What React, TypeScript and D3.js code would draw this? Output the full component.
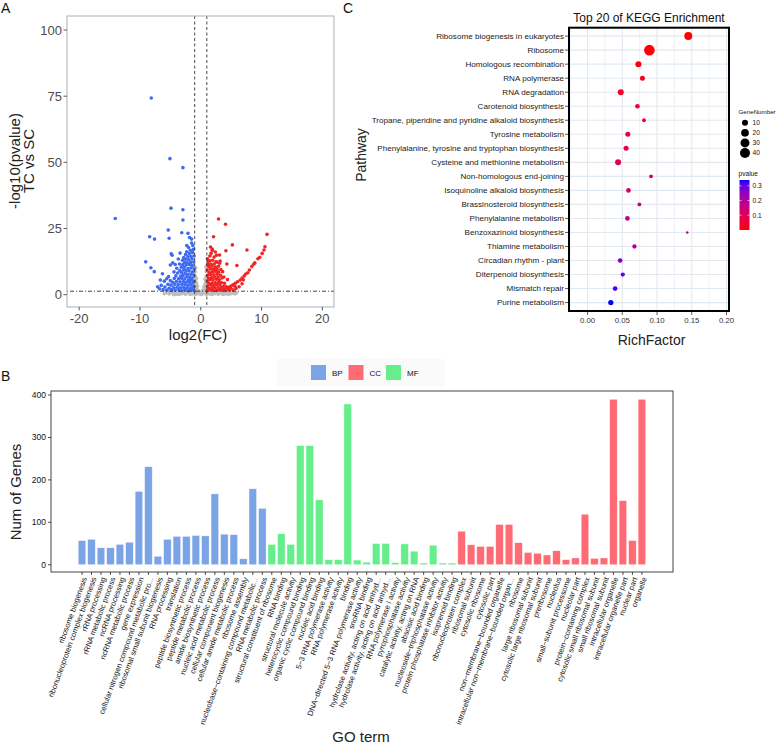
import React from 'react';
import * as d3 from 'd3';

const FONT = "'Liberation Sans', Arial, Helvetica, sans-serif";

// ---------------- Panel A: volcano ----------------
const volcanoXTicks = [-20, -10, 0, 10, 20];
const volcanoYTicks = [0, 25, 50, 75, 100];
const fcCutoffs = [-1, 1];
const pCutoff = 1.3;

const greyPoints: [number, number][] = [
  [-6.0, 0.4], [-5.6, 0.8], [-5.2, 0.3], [-4.9, 1.0], [-4.6, 0.5], [-4.3, 0.9], [-4.0, 0.2], [-3.7, 0.7], [-3.4, 1.1], [-3.1, 0.4],
  [-2.8, 0.8], [-2.5, 0.2], [-2.2, 1.0], [-1.9, 0.5], [-1.6, 0.9], [-1.3, 0.3], [-1.0, 0.7], [-0.7, 1.1], [-0.4, 0.4], [-0.1, 0.8],
  [0.2, 0.2], [0.5, 1.0], [0.8, 0.5], [1.1, 0.9], [1.4, 0.3], [1.7, 0.7], [2.0, 1.1], [2.3, 0.4], [2.6, 0.8], [2.9, 0.2],
  [3.2, 1.0], [3.5, 0.5], [3.8, 0.9], [4.1, 0.3], [4.4, 0.7], [4.7, 1.1], [5.0, 0.4], [5.3, 0.8], [5.6, 0.3], [5.9, 0.7],
  [-5.4, 1.2], [-4.45, 0.05], [-3.55, 0.1], [-2.65, 1.2], [-1.75, 0.1], [-0.85, 0.2], [0.05, 0.1], [0.95, 0.15], [1.85, 0.1],
  [2.75, 1.2], [3.65, 0.1], [4.55, 0.15], [5.45, 1.2],
  [-0.95, 2.0], [-0.9, 3.5], [-0.92, 5.0], [-0.88, 6.8], [-0.93, 8.6], [-0.85, 10.2], [-0.75, 2.8], [-0.7, 4.4], [-0.72, 6.0],
  [-0.6, 2.0], [-0.55, 3.3], [-0.45, 1.6], [-0.3, 1.4], [0.3, 1.5], [0.45, 1.8], [0.55, 3.0], [0.62, 2.2], [0.72, 4.2], [0.7, 5.8],
  [0.78, 2.9], [0.9, 3.6], [0.88, 5.2], [0.92, 7.0], [0.95, 8.8], [0.86, 10.5], [0.94, 2.2],
];

const bluePoints: [number, number][] = [
  [-8.14, 74.3], [-5.07, 51.4], [-2.93, 48.0], [-4.9, 32.7], [-2.93, 32.1], [-2.93, 28.2], [-14.06, 28.8], [-5.35, 24.4],
  [-3.12, 23.4], [-2.1, 23.2], [-8.4, 21.9], [-7.6, 21.0], [-5.2, 21.3], [-1.84, 21.6], [-9.05, 12.4], [-8.2, 10.2],
  [-7.65, 8.7], [-6.3, 7.9], [-4.85, 15.4], [-4.7, 14.9], [-5.0, 11.2], [-6.65, 5.5], [-5.3, 6.8],
  [-1.05, 1.6], [-1.1, 3.2], [-1.08, 5.1], [-1.12, 7.4], [-1.06, 9.8], [-1.15, 12.3], [-1.1, 14.6], [-1.2, 17.1], [-1.3, 18.6],
  [-1.35, 2.4], [-1.3, 4.4], [-1.4, 6.3], [-1.33, 8.6], [-1.38, 11.0], [-1.42, 13.5], [-1.36, 15.9], [-1.5, 19.5], [-1.55, 1.7],
  [-1.6, 3.6], [-1.52, 5.5], [-1.62, 7.7], [-1.58, 10.1], [-1.65, 12.2], [-1.6, 14.4], [-1.7, 16.8],
  [-1.8, 2.3], [-1.85, 4.6], [-1.78, 6.6], [-1.9, 8.9], [-1.82, 11.3], [-1.95, 13.2], [-1.88, 15.5], [-2.0, 17.8], [-2.05, 1.5],
  [-2.1, 3.5], [-2.02, 5.6], [-2.15, 7.6], [-2.08, 9.9], [-2.2, 12.0], [-2.12, 14.3], [-2.3, 16.2], [-2.3, 2.6], [-2.35, 4.8],
  [-2.28, 6.9], [-2.4, 9.0], [-2.38, 11.2], [-2.45, 13.4], [-2.5, 15.2],
  [-2.55, 1.8], [-2.6, 3.9], [-2.62, 6.0], [-2.58, 8.1], [-2.7, 10.3], [-2.65, 12.2], [-2.8, 14.0], [-2.8, 2.7], [-2.85, 5.0],
  [-2.9, 7.2], [-2.82, 9.3], [-2.95, 11.4], [-3.0, 13.0], [-3.05, 1.6], [-3.1, 3.8], [-3.12, 6.1], [-3.15, 8.4], [-3.2, 10.4],
  [-3.35, 2.6], [-3.4, 4.9], [-3.3, 7.0], [-3.45, 9.1], [-3.5, 11.6],
  [-3.6, 1.9], [-3.7, 3.8], [-3.65, 6.0], [-3.8, 8.2], [-3.9, 2.8], [-4.0, 5.0], [-4.1, 7.1], [-3.95, 10.0], [-4.2, 1.7],
  [-4.3, 3.9], [-4.35, 6.1], [-4.5, 2.6], [-4.6, 4.7], [-4.4, 8.6], [-4.8, 1.8], [-4.9, 3.6], [-5.0, 5.3], [-5.2, 2.4],
  [-5.4, 3.9], [-5.6, 1.7], [-5.9, 2.9], [-6.2, 1.9], [-6.5, 3.5], [-6.8, 2.2], [-7.1, 3.0], [-5.6, 6.0], [-6.0, 5.1],
  [-4.6, 12.0], [-3.7, 13.5], [-2.3, 18.6], [-1.5, 21.0], [-3.4, 15.7], [-4.2, 11.4],
];

const redPoints: [number, number][] = [
  [2.93, 28.6], [4.08, 26.6], [10.9, 22.8], [2.1, 21.9], [5.2, 18.8], [7.6, 16.9], [4.14, 16.6], [10.56, 18.1], [10.4, 16.9],
  [10.1, 15.6], [9.7, 14.1], [9.4, 13.6], [8.7, 11.5], [8.4, 10.6], [8.0, 9.3], [7.75, 8.3], [7.4, 7.8], [7.15, 7.1],
  [5.95, 11.0], [4.3, 11.6], [3.1, 15.0], [3.2, 12.7], [6.5, 5.5], [6.05, 4.9], [5.67, 4.3], [5.3, 3.7], [4.96, 3.3],
  [4.57, 2.8], [4.2, 2.4], [1.9, 17.2], [2.4, 16.1], [1.6, 18.0], [8.9, 12.0], [6.8, 6.3],
  [1.05, 1.6], [1.1, 3.3], [1.08, 5.2], [1.12, 7.3], [1.06, 9.4], [1.15, 11.5], [1.1, 13.6], [1.2, 12.4], [1.3, 2.4], [1.35, 4.3],
  [1.32, 6.2], [1.4, 8.4], [1.36, 10.6], [1.45, 12.8], [1.5, 14.6], [1.55, 1.8], [1.6, 3.7], [1.52, 5.7], [1.62, 7.6], [1.58, 9.7],
  [1.66, 11.6], [1.8, 2.5], [1.85, 4.4], [1.78, 6.5], [1.9, 8.6], [1.86, 10.8], [1.95, 13.0], [2.05, 1.6], [2.1, 3.5], [2.0, 5.6],
  [2.15, 7.5], [2.1, 9.6], [2.2, 11.6], [2.3, 2.6], [2.35, 4.6], [2.28, 6.7], [2.42, 8.8], [2.4, 10.4], [2.5, 12.4],
  [2.6, 1.7], [2.62, 3.7], [2.58, 5.8], [2.7, 7.7], [2.68, 9.5], [2.85, 2.6], [2.9, 4.6], [2.82, 6.6], [2.95, 8.5], [3.1, 1.8],
  [3.15, 3.7], [3.05, 5.6], [3.25, 7.3], [3.35, 2.6], [3.4, 4.6], [3.5, 6.3], [3.6, 1.7], [3.7, 3.2], [3.85, 2.1], [3.9, 4.3],
  [4.1, 1.8], [4.15, 3.1], [4.4, 2.2], [4.7, 1.7], [4.9, 2.6], [2.9, 10.7], [3.3, 9.5], [3.8, 6.7], [4.4, 5.7], [2.2, 14.2],
  [1.7, 15.6], [2.7, 12.3], [3.1, 11.9], [1.9, 16.7], [2.6, 14.9], [3.6, 8.7], [5.3, 1.8], [5.8, 2.3], [6.3, 3.0], [6.8, 4.1],
  [7.0, 5.6], [5.6, 3.2],
];

// ---------------- Panel B: GO bars ----------------
const bpTerms = [
  'ribosome biogenesis', 'ribonucleoprotein complex biogenesis', 'rRNA processing', 'rRNA metabolic process',
  'ncRNA processing', 'ncRNA metabolic process', 'gene expression', 'cellular nitrogen compound metabolic pro...',
  'ribosomal small subunit biogenesis', 'RNA processing', 'translation', 'peptide biosynthetic process',
  'peptide metabolic process', 'amide biosynthetic process', 'nucleic acid metabolic process',
  'cellular component biogenesis', 'cellular amide metabolic process', 'ribosome assembly',
  'nucleobase\u2212containing compound metabolic...', 'RNA metabolic process',
];
const bpCounts = [57, 60, 40, 40, 48, 53, 173, 231, 20, 60, 67, 67, 69, 68, 167, 72, 71, 14, 179, 133];

const mfTerms = [
  'structural constituent of ribosome', 'RNA binding', 'structural molecule activity', 'heterocyclic compound binding',
  'organic cyclic compound binding', 'nucleic acid binding', '5\u22123 RNA polymerase activity', 'RNA polymerase activity',
  'binding', 'DNA\u2212directed 5\u22123 RNA polymerase activity', 'snoRNA binding',
  'hydrolase activity, acting on acid anhyd...', 'hydrolase activity, acting on acid anhyd...',
  'RNA polymerase I activity', 'pyrophosphatase activity', 'catalytic activity, acting on RNA', 'abscisic acid binding',
  'nucleoside\u2212triphosphatase activity', 'protein phosphatase inhibitor activity', 'isoprenoid binding',
];
const mfCounts = [48, 73, 48, 281, 281, 153, 12, 12, 379, 11, 6, 50, 50, 5, 49, 32, 4, 46, 4, 4];

const ccTerms = [
  'ribonucleoprotein complex', 'ribosomal subunit', 'cytosolic ribosome', 'cytosolic part',
  'non\u2212membrane\u2212bounded organelle', 'intracellular non\u2212membrane\u2212bounded organ...', 'ribosome',
  'large ribosomal subunit', 'cytosolic large ribosomal subunit', 'preribosome', 'nucleolus',
  'small\u2212subunit processome', 'nucleolar part', 'protein\u2212containing complex',
  'cytosolic small ribosomal subunit', 'small ribosomal subunit', 'intracellular organelle',
  'intracellular organelle part', 'nuclear part', 'organelle',
];
const ccCounts = [79, 47, 43, 43, 95, 95, 52, 29, 27, 23, 33, 12, 16, 119, 15, 16, 390, 151, 57, 390];

const goClasses = ['BP', 'CC', 'MF'];
const goColors: Record<string, string> = { BP: '#7BA4E6', CC: '#FF6B74', MF: '#66EE8C' };
const goYTicks = [0, 100, 200, 300, 400];

// ---------------- Panel C: KEGG dots ----------------
const pathways = [
  'Ribosome biogenesis in eukaryotes', 'Ribosome', 'Homologous recombination', 'RNA polymerase', 'RNA degradation',
  'Carotenoid biosynthesis', 'Tropane, piperidine and pyridine alkaloid biosynthesis', 'Tyrosine metabolism',
  'Phenylalanine, tyrosine and tryptophan biosynthesis', 'Cysteine and methionine metabolism',
  'Non-homologous end-joining', 'Isoquinoline alkaloid biosynthesis', 'Brassinosteroid biosynthesis',
  'Phenylalanine metabolism', 'Benzoxazinoid biosynthesis', 'Thiamine metabolism', 'Circadian rhythm - plant',
  'Diterpenoid biosynthesis', 'Mismatch repair', 'Purine metabolism',
];
const richFactors = [0.145, 0.089, 0.0732, 0.079, 0.0478, 0.0718, 0.0813, 0.058, 0.0555, 0.044, 0.0914, 0.0589, 0.0746,
  0.0574, 0.1435, 0.0675, 0.0469, 0.0507, 0.0397, 0.0335];
const geneNumbers = [22, 46, 10, 6, 10, 5, 3, 6, 6, 10, 3, 5, 3, 5, 2, 4, 5, 4, 5, 7];
const pValues = [0.001, 0.003, 0.01, 0.02, 0.035, 0.045, 0.055, 0.065, 0.075, 0.085, 0.12, 0.13, 0.15, 0.16, 0.18, 0.2,
  0.27, 0.3, 0.32, 0.34];
const richTicks = [0, 0.05, 0.1, 0.15, 0.2];
const richMinor = [-0.025, 0.025, 0.075, 0.125, 0.175];
const sizeLegend = [10, 20, 30, 40];
const pLegendTicks = [0.1, 0.2, 0.3];

export default function App() {
  // Panel A scales
  const xA = d3.scaleLinear().domain([-22, 22]).range([67, 334.5]);
  const yA = d3.scaleLinear().domain([-5, 105]).range([307.9, 16.8]);
  const boxA = { x0: 67, x1: 334, y0: 16, y1: 307 };

  // Panel B
  const goTerms = [...bpTerms, ...mfTerms, ...ccTerms];
  const goCounts = [...bpCounts, ...mfCounts, ...ccCounts];
  const goClass = [...bpTerms.map(() => 'BP'), ...mfTerms.map(() => 'MF'), ...ccTerms.map(() => 'CC')];
  const idx = d3.range(goTerms.length);
  const xB = d3.scaleBand<number>().domain(idx).range([77.25, 646.65]).paddingInner(0.2).paddingOuter(0.1);
  const yB = d3.scaleLinear().domain([-19.5, 409.5]).range([573, 391]);
  const boxB = { x0: 51, x1: 673, y0: 391, y1: 572 };

  // Panel C
  const xC = d3.scaleLinear().domain([-0.0267, 0.2036]).range([569, 729]);
  const yC = d3.scalePoint<string>().domain(pathways).range([27.7, 311]).padding(0.6);
  const minG = d3.min(geneNumbers) as number;
  const maxG = d3.max(geneNumbers) as number;
  const rArea = d3.scaleSqrt().domain([0, maxG - minG]).range([0, 4]);
  const rC = (n: number) => 1.3 + rArea(Math.max(0, n - minG));
  const colC = d3.scaleLinear<string>().domain([0, 0.34]).range(['#FF0000', '#0000FF']).interpolate(d3.interpolateLab);
  const pBar = d3.scaleLinear().domain([0, 0.339]).range([230, 180]);
  const boxC = { x0: 569, x1: 729, y0: 27.7, y1: 311 };

  const gradStops = d3.range(0, 1.0001, 0.1);

  return (
    <svg width={778} height={751} style={{ position: 'absolute', left: 0, top: 0, background: '#fff' }} fontFamily={FONT}>
      <defs>
        <linearGradient id="pgrad" x1="0" y1="1" x2="0" y2="0">
          {gradStops.map((t) => (
            <stop key={t} offset={t} stopColor={colC(t * 0.339)} />
          ))}
        </linearGradient>
        <clipPath id="clipA">
          <rect x={boxA.x0} y={boxA.y0} width={boxA.x1 - boxA.x0} height={boxA.y1 - boxA.y0} />
        </clipPath>
      </defs>
      <rect x={0} y={0} width={778} height={751} fill="#fff" />

      {/* ================= Panel A ================= */}
      <text x={1} y={13} fontSize={14} fill="#111">A</text>
      <g clipPath="url(#clipA)">
        {greyPoints.map((d, i) => (
          <circle key={'g' + i} cx={xA(d[0])} cy={yA(d[1])} r={1.9} fill="#BDBDBD" />
        ))}
        {bluePoints.map((d, i) => (
          <circle key={'b' + i} cx={xA(d[0])} cy={yA(d[1])} r={1.8} fill="#3D6AF2" />
        ))}
        {redPoints.map((d, i) => (
          <circle key={'r' + i} cx={xA(d[0])} cy={yA(d[1])} r={1.8} fill="#F22424" />
        ))}
        {fcCutoffs.map((v) => (
          <line key={v} x1={xA(v)} x2={xA(v)} y1={boxA.y0} y2={boxA.y1} stroke="#333" strokeWidth={0.9} strokeDasharray="3,2.5" />
        ))}
        <line x1={boxA.x0} x2={boxA.x1} y1={yA(pCutoff)} y2={yA(pCutoff)} stroke="#333" strokeWidth={0.9} strokeDasharray="1,2,4,2" />
      </g>
      <rect x={boxA.x0} y={boxA.y0} width={boxA.x1 - boxA.x0} height={boxA.y1 - boxA.y0} fill="none" stroke="#A9B0B8" strokeWidth={1} />
      {volcanoYTicks.map((t) => (
        <g key={'ya' + t}>
          <line x1={boxA.x0 - 3.5} x2={boxA.x0} y1={yA(t)} y2={yA(t)} stroke="#333" strokeWidth={0.8} />
          <text x={boxA.x0 - 5} y={yA(t)} dy="0.35em" textAnchor="end" fontSize={13} fill="#4D4D4D">{t}</text>
        </g>
      ))}
      {volcanoXTicks.map((t) => (
        <g key={'xa' + t}>
          <line x1={xA(t)} x2={xA(t)} y1={boxA.y1} y2={boxA.y1 + 3.5} stroke="#333" strokeWidth={0.8} />
          <text x={xA(t)} y={boxA.y1 + 16} textAnchor="middle" fontSize={13} fill="#4D4D4D">{t}</text>
        </g>
      ))}
      <text x={198} y={340} textAnchor="middle" fontSize={15} fill="#222">log2(FC)</text>
      <g transform="translate(15,161) rotate(-90)">
        <text x={0} y={0} dy="0.35em" textAnchor="middle" fontSize={15} fill="#222">-log10(pvalue)</text>
        <text x={0} y={14} dy="0.35em" textAnchor="middle" fontSize={15} fill="#222">TC vs SC</text>
      </g>

      {/* ================= Panel B ================= */}
      <text x={1} y={381} fontSize={14} fill="#111">B</text>
      <rect x={277} y={359} width={168} height={27} fill="#FAFAFA" />
      {goClasses.map((c, i) => {
        const kx = [311, 348.5, 386][i];
        return (
          <g key={c}>
            <rect x={kx} y={365} width={15} height={15} fill={goColors[c]} />
            <text x={kx + 21} y={375.5} fontSize={8} fill="#111">{c}</text>
          </g>
        );
      })}
      <rect x={boxB.x0} y={boxB.y0} width={boxB.x1 - boxB.x0} height={boxB.y1 - boxB.y0} fill="#fff" />
      {idx.map((i) => (
        <rect
          key={'bar' + i}
          x={xB(i) as number}
          y={yB(goCounts[i])}
          width={xB.bandwidth()}
          height={yB(0) - yB(goCounts[i])}
          fill={goColors[goClass[i]]}
          stroke="#ffffff"
          strokeOpacity={0.7}
          strokeWidth={0.6}
        />
      ))}
      <rect x={boxB.x0} y={boxB.y0} width={boxB.x1 - boxB.x0} height={boxB.y1 - boxB.y0} fill="none" stroke="#444" strokeWidth={1} />
      {goYTicks.map((t) => (
        <g key={'yb' + t}>
          <line x1={boxB.x0 - 3} x2={boxB.x0} y1={yB(t)} y2={yB(t)} stroke="#222" strokeWidth={0.8} />
          <text x={boxB.x0 - 5} y={yB(t)} dy="0.35em" textAnchor="end" fontSize={8.5} fill="#111">{t}</text>
        </g>
      ))}
      {idx.map((i) => {
        const cx = (xB(i) as number) + xB.bandwidth() / 2;
        return (
          <g key={'xl' + i}>
            <line x1={cx} x2={cx} y1={boxB.y1} y2={boxB.y1 + 3} stroke="#222" strokeWidth={0.8} />
            <text transform={`translate(${cx},${boxB.y1 + 4.5}) rotate(-70)`} textAnchor="end" dy="0.71em" fontSize={7.6} fill="#111">
              {goTerms[i]}
            </text>
          </g>
        );
      })}
      <text x={361} y={742} textAnchor="middle" fontSize={15} fill="#222">GO term</text>
      <text transform="translate(16,492) rotate(-90)" textAnchor="middle" dy="0.35em" fontSize={15} fill="#222">Num of Genes</text>

      {/* ================= Panel C ================= */}
      <text x={343} y={13} fontSize={14} fill="#111">C</text>
      <text x={649} y={21.5} textAnchor="middle" fontSize={12} fill="#111">Top 20 of KEGG Enrichment</text>
      <rect x={boxC.x0} y={boxC.y0} width={boxC.x1 - boxC.x0} height={boxC.y1 - boxC.y0} fill="#fff" />
      {richMinor.map((t) => (
        <line key={'mn' + t} x1={xC(t)} x2={xC(t)} y1={boxC.y0} y2={boxC.y1} stroke="#E6EBF1" strokeWidth={0.7} />
      ))}
      {richTicks.map((t) => (
        <line key={'mj' + t} x1={xC(t)} x2={xC(t)} y1={boxC.y0} y2={boxC.y1} stroke="#E2E8EF" strokeWidth={1.1} />
      ))}
      {pathways.map((p) => (
        <line key={'hg' + p} x1={boxC.x0} x2={boxC.x1} y1={yC(p)} y2={yC(p)} stroke="#E2E8EF" strokeWidth={1.1} />
      ))}
      {pathways.map((p, i) => (
        <circle key={'dot' + p} cx={xC(richFactors[i])} cy={yC(p)} r={rC(geneNumbers[i])} fill={colC(pValues[i])} />
      ))}
      <rect x={boxC.x0} y={boxC.y0} width={boxC.x1 - boxC.x0} height={boxC.y1 - boxC.y0} fill="none" stroke="#000" strokeWidth={2} />
      {pathways.map((p) => (
        <g key={'yl' + p}>
          <line x1={boxC.x0 - 4} x2={boxC.x0 - 1} y1={yC(p)} y2={yC(p)} stroke="#333" strokeWidth={0.8} />
          <text x={boxC.x0 - 5} y={yC(p)} dy="0.35em" textAnchor="end" fontSize={8.1} fill="#1a1a1a">{p}</text>
        </g>
      ))}
      {richTicks.map((t) => (
        <g key={'xc' + t}>
          <line x1={xC(t)} x2={xC(t)} y1={boxC.y1 + 1} y2={boxC.y1 + 4} stroke="#333" strokeWidth={0.8} />
          <text x={xC(t)} y={boxC.y1 + 12} textAnchor="middle" fontSize={7.8} fill="#333">{t.toFixed(2)}</text>
        </g>
      ))}
      <text x={651.5} y={345} textAnchor="middle" fontSize={14} fill="#222">RichFactor</text>
      <text transform="translate(361.5,155) rotate(-90)" textAnchor="middle" dy="0.35em" fontSize={14} fill="#222">Pathway</text>

      {/* legends C */}
      <text x={738.5} y={114} fontSize={6.2} fill="#111">GeneNumber</text>
      {sizeLegend.map((n, i) => {
        const cy = 122.7 + i * 10.1;
        return (
          <g key={'sl' + n}>
            <circle cx={745} cy={cy} r={rC(n)} fill="#000" />
            <text x={752.5} y={cy} dy="0.35em" fontSize={6.6} fill="#111">{n}</text>
          </g>
        );
      })}
      <text x={738.5} y={176} fontSize={6.6} fill="#111">pvalue</text>
      <rect x={739.5} y={180} width={10} height={50} fill="url(#pgrad)" />
      {pLegendTicks.map((t) => (
        <g key={'pl' + t}>
          <line x1={739.5} x2={741.5} y1={pBar(t)} y2={pBar(t)} stroke="#fff" strokeWidth={0.6} />
          <line x1={747.5} x2={749.5} y1={pBar(t)} y2={pBar(t)} stroke="#fff" strokeWidth={0.6} />
          <text x={752.5} y={pBar(t)} dy="0.35em" fontSize={6.6} fill="#111">{t.toFixed(1)}</text>
        </g>
      ))}
    </svg>
  );
}
